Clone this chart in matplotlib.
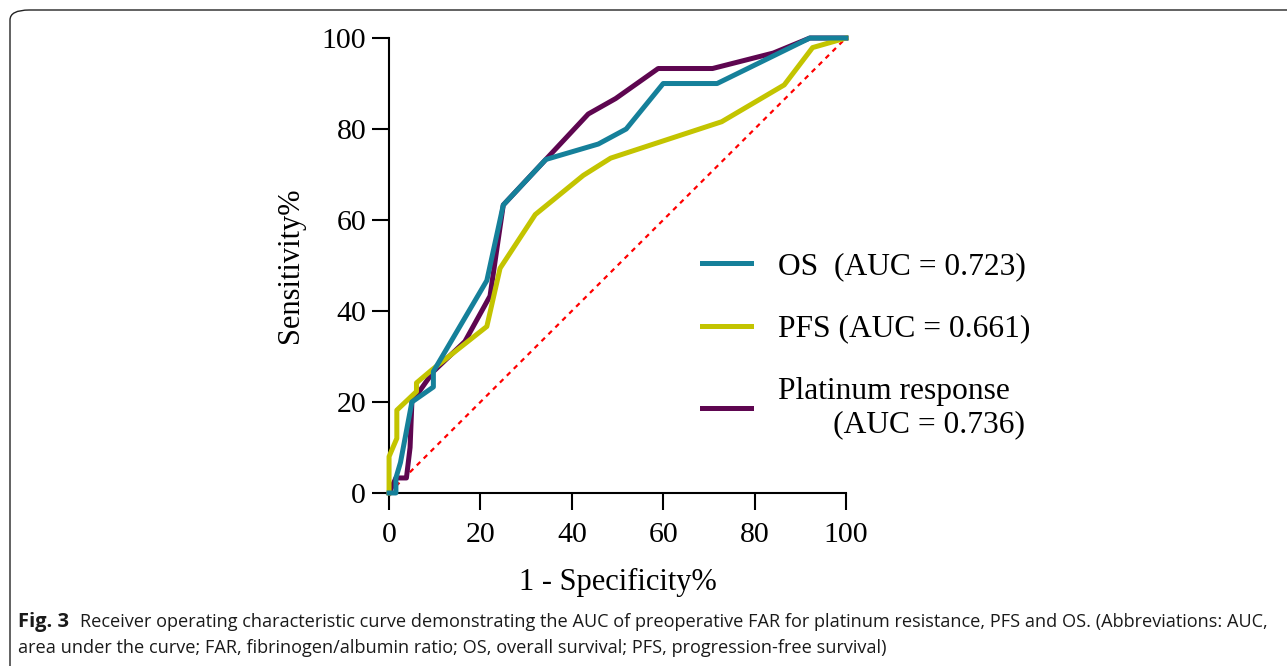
import matplotlib
matplotlib.use("Agg")
import matplotlib.pyplot as plt
from matplotlib.patches import FancyBboxPatch

# ROC points (1 - specificity %, sensitivity %)
os_fpr = [0, 1.5, 1.5, 2.5, 5.0, 9.7, 9.7, 21.4, 25.0, 34.3, 45.8, 51.9, 60.0, 71.8, 92.1, 100]
os_tpr = [0, 0, 3.3, 6.7, 20.0, 23.3, 26.7, 46.7, 63.3, 73.3, 76.7, 80.0, 90.0, 90.0, 100, 100]

pfs_fpr = [0, 0, 1.7, 1.7, 6.0, 6.0, 9.3, 21.4, 24.3, 32.0, 42.5, 48.5, 72.8, 86.5, 92.7, 100]
pfs_tpr = [0, 8.0, 12.0, 18.2, 22.3, 24.2, 27.0, 36.6, 49.4, 61.2, 69.8, 73.6, 81.6, 89.7, 97.9, 100]

plat_fpr = [0, 1.5, 3.8, 4.6, 5.0, 9.7, 16.6, 22.1, 25.0, 34.3, 43.6, 49.6, 58.9, 70.8, 84.1, 92.1, 100]
plat_tpr = [0, 3.3, 3.3, 10.0, 20.0, 26.7, 33.3, 43.3, 63.3, 73.3, 83.3, 86.7, 93.3, 93.3, 96.7, 100, 100]

labels = ["OS  (AUC = 0.723)", "PFS (AUC = 0.661)",
          "Platinum response\n       (AUC = 0.736)"]
ticks = [0, 20, 40, 60, 80, 100]

teal = "#15809a"
olive = "#c3c400"
purple = "#5e0650"

serif = ["Liberation Serif", "DejaVu Serif"]

fig = plt.figure(figsize=(12.87, 6.66), dpi=100)
ax = fig.add_axes([0.3023, 0.2598, 0.355, 0.6831])

ax.plot([0, 100], [0, 100], color="red", lw=1.6, ls=(0, (2.2, 2.2)), clip_on=False, zorder=1)
l3, = ax.plot(plat_fpr, plat_tpr, color=purple, lw=3.6, clip_on=False, zorder=2)
l2, = ax.plot(pfs_fpr, pfs_tpr, color=olive, lw=3.6, clip_on=False, zorder=3)
l1, = ax.plot(os_fpr, os_tpr, color=teal, lw=3.6, clip_on=False, zorder=4)

ax.set_xlim(0, 100)
ax.set_ylim(0, 100)
ax.set_xticks(ticks)
ax.set_yticks(ticks)
for s in ["top", "right"]:
    ax.spines[s].set_visible(False)
for s in ["left", "bottom"]:
    ax.spines[s].set_linewidth(1.5)
ax.tick_params(direction="out", length=12, width=1.5, labelsize=21.5)
ax.tick_params(axis="y", pad=4.5)
ax.tick_params(axis="x", pad=9)
for lab in ax.get_xticklabels() + ax.get_yticklabels():
    lab.set_family(serif)

ax.set_xlabel("1 - Specificity%", fontsize=22, family=serif, labelpad=14)
ax.set_ylabel("Sensitivity%", fontsize=22, family=serif, labelpad=12)

leg = ax.legend([l1, l2, l3], labels, loc="upper left", bbox_to_anchor=(0.685, 0.529),
                frameon=False, handlelength=1.54, handletextpad=0.86, labelspacing=1.05,
                borderpad=0, borderaxespad=0,
                prop={"family": serif, "size": 22.7})
for h in leg.get_lines():
    h.set_linewidth(3.6)

# frame around the figure panel
box = FancyBboxPatch((10 / 1287, -0.05), 1.1, 1 - 10 / 666 + 0.05,
                     boxstyle="round,pad=0,rounding_size=0.015",
                     transform=fig.transFigure, fill=False, lw=1.0, ec="#222222",
                     clip_on=False)
fig.patches.append(box)

cap_font = ["Open Sans", "DejaVu Sans"]
fig.text(18 / 1287, 1 - 622 / 666, "Fig. 3", fontsize=14.5, fontweight="bold",
         family=cap_font, va="center", color="#1a1a1a")
fig.text(80 / 1287, 1 - 622 / 666,
         "Receiver operating characteristic curve demonstrating the AUC of preoperative FAR for "
         "platinum resistance, PFS and OS. (Abbreviations: AUC,",
         fontsize=13.1, family=cap_font, va="center", color="#1a1a1a")
fig.text(18 / 1287, 1 - 648 / 666,
         "area under the curve; FAR, fibrinogen/albumin ratio; OS, overall survival; "
         "PFS, progression-free survival)",
         fontsize=13.1, family=cap_font, va="center", color="#1a1a1a")

fig.savefig("out.png", dpi=100)
